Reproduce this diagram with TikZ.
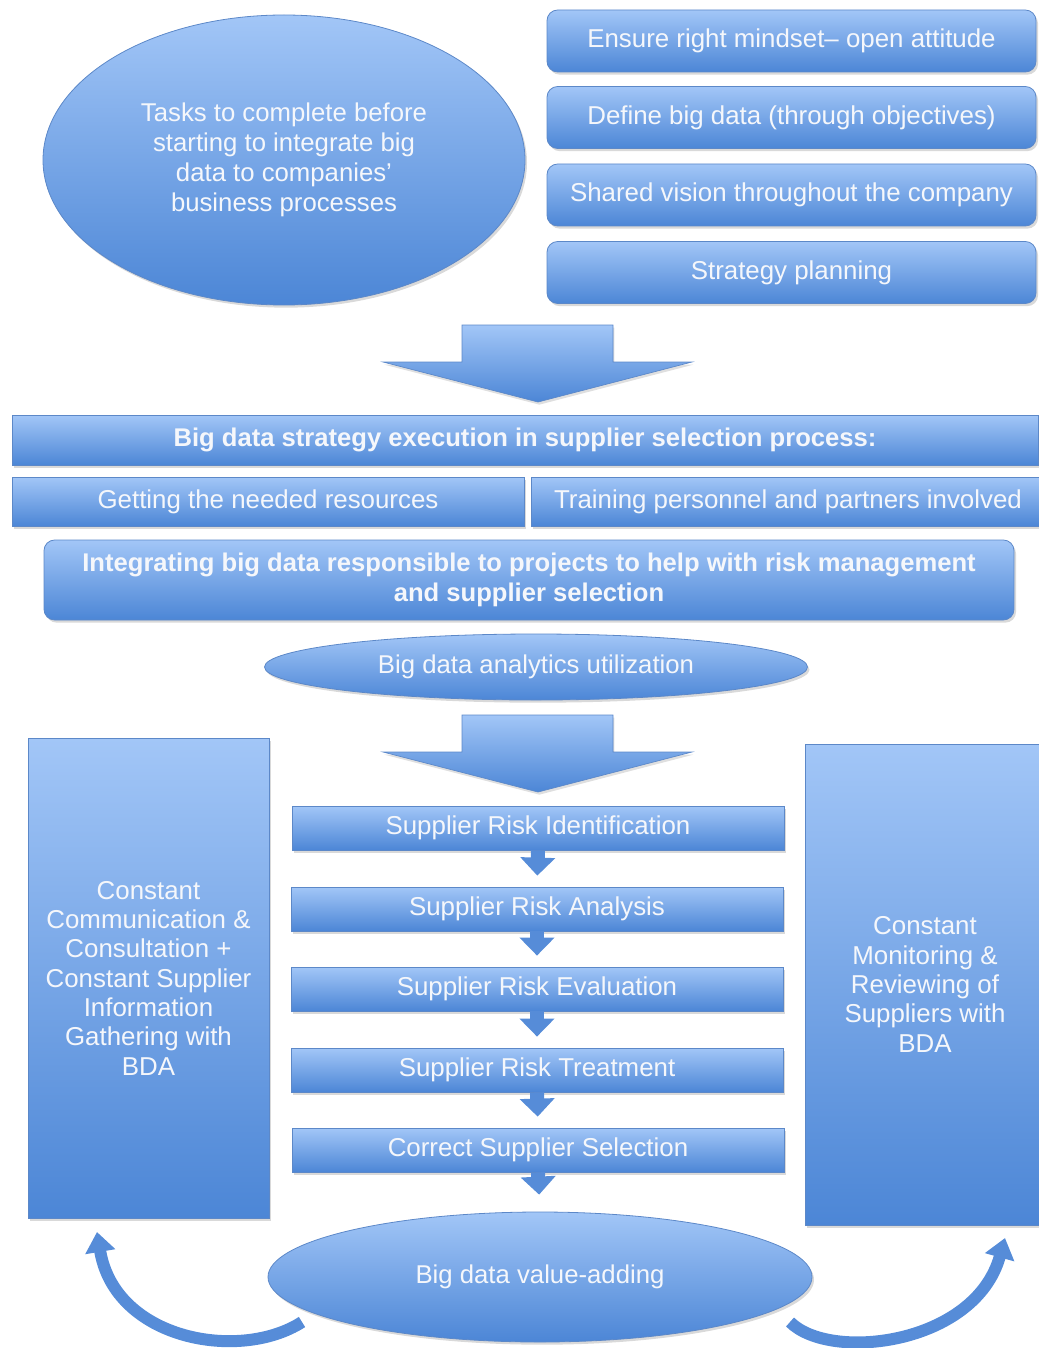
\documentclass[tikz,border=0pt]{standalone}
\usepackage{fontspec}
\setmainfont{Liberation Sans}
\usetikzlibrary{shapes.geometric,arrows.meta,shadows}

\definecolor{bluetop}{RGB}{162,198,247}
\definecolor{bluebot}{RGB}{76,134,214}
\definecolor{blueedge}{RGB}{92,136,200}
\definecolor{bluearrow}{RGB}{86,140,216}
\definecolor{txtwhite}{RGB}{245,247,251}

\tikzset{
  bluefill/.style={top color=bluetop, bottom color=bluebot, draw=blueedge, line width=0.6pt,
    drop shadow={shadow xshift=1.5pt, shadow yshift=-2pt, opacity=0.3}},
  box/.style={bluefill, rectangle, text=txtwhite, align=center, inner sep=0pt,
    font=\fontsize{19.4}{22.5}\selectfont},
  rbox/.style={box, rounded corners=8pt},
  boldbox/.style={box, font=\fontsize{19.2}{22.5}\selectfont\bfseries},
  ell/.style={bluefill, ellipse, text=txtwhite, align=center, inner sep=0pt,
    font=\fontsize{19.3}{22.5}\selectfont},
  stepbox/.style={box, minimum width=369pt, minimum height=33pt},
  bigar/.style={top color=bluetop, bottom color=bluebot, draw=blueedge, line width=0.5pt,
    drop shadow={shadow xshift=1pt, shadow yshift=-2pt, opacity=0.25}},
  smallar/.style={draw=bluearrow, line width=10.5pt, shorten >=8.25pt,
    -{Triangle[length=13.5pt,width=25.5pt]}},
  curvar/.style={draw=bluearrow, line width=9pt,
    -{Triangle[length=15pt,width=22pt]}}
}

\begin{document}
\begin{tikzpicture}[x=0.75pt,y=-0.75pt]
\useasboundingbox (0,0) rectangle (1038,1348);

\node[ell, minimum width=361.5pt, minimum height=217.5pt] (tasks) at (284,160)
  {Tasks to complete before\\starting to integrate big\\data to companies’\\business processes};

\node[rbox, minimum width=366.75pt, minimum height=46.5pt] (mind) at (791.5,41) {Ensure right mindset– open attitude};
\node[rbox, minimum width=366.75pt, minimum height=46.5pt] (define) at (791.5,117.5) {Define big data (through objectives)};
\node[rbox, minimum width=366.75pt, minimum height=46.5pt] (vision) at (791.5,195) {Shared vision throughout the company};
\node[rbox, minimum width=366.75pt, minimum height=46.5pt] (plan) at (791.5,272.5) {Strategy planning};

\draw[bigar] (462,325) -- (613,325) -- (613,362) -- (692,362) -- (538,402) -- (383,362) -- (462,362) -- cycle;

\node[boldbox, minimum width=769.5pt, minimum height=37.5pt] (exec) at (525,440)
  {Big data strategy execution in supplier selection process:};
\node[box, minimum width=384pt, minimum height=36.75pt] (res) at (268,501.5) {Getting the needed resources};
\node[box, minimum width=385.5pt, minimum height=36.75pt] (train) at (788,501.5) {Training personnel and partners involved};
\node[boldbox, rounded corners=8pt, minimum width=727.5pt, minimum height=60pt] (integ) at (529,580)
  {Integrating big data responsible to projects to help with risk management\\and supplier selection};
\node[ell, minimum width=407.25pt, minimum height=49.5pt] (bda) at (536,667) {Big data analytics utilization};

\draw[bigar] (462,715) -- (613,715) -- (613,752) -- (692,752) -- (538,792) -- (383,752) -- (462,752) -- cycle;

\node[box, minimum width=180.75pt, minimum height=360pt, font=\fontsize{19.4}{22}\selectfont] (comm) at (148.5,978)
  {Constant\\Communication \&\\Consultation +\\Constant Supplier\\Information\\Gathering with\\BDA};
\node[box, minimum width=180pt, minimum height=360.75pt, font=\fontsize{19.4}{22}\selectfont] (monit) at (925,984.5)
  {Constant\\Monitoring \&\\Reviewing of\\Suppliers with\\BDA};

\node[stepbox] (ident) at (538,828) {Supplier Risk Identification};
\node[stepbox] (anal) at (537,909) {Supplier Risk Analysis};
\node[stepbox] (eval) at (537,989) {Supplier Risk Evaluation};
\node[stepbox] (treat) at (537,1070) {Supplier Risk Treatment};
\node[stepbox] (select) at (538,1150) {Correct Supplier Selection};

\node[ell, minimum width=408pt, minimum height=97.5pt] (value) at (540,1277) {Big data value-adding};

\draw[smallar] (ident.south) -- (anal.north);
\draw[smallar] (anal.south) -- (eval.north);
\draw[smallar] (eval.south) -- (treat.north);
\draw[smallar] (treat.south) -- (select.north);
\draw[smallar, shorten >=12.75pt] (select.south) -- (value.north);

\coordinate (ltail) at (302,1322);
\coordinate (lhead) at (97,1232);
\coordinate (rtail) at (790,1322);
\coordinate (rhead) at (1005,1238);
\draw[curvar] (ltail) .. controls (240,1362) and (115,1340) .. (lhead);
\draw[curvar] (rtail) .. controls (830,1362) and (975,1345) .. (rhead);
\end{tikzpicture}
\end{document}
